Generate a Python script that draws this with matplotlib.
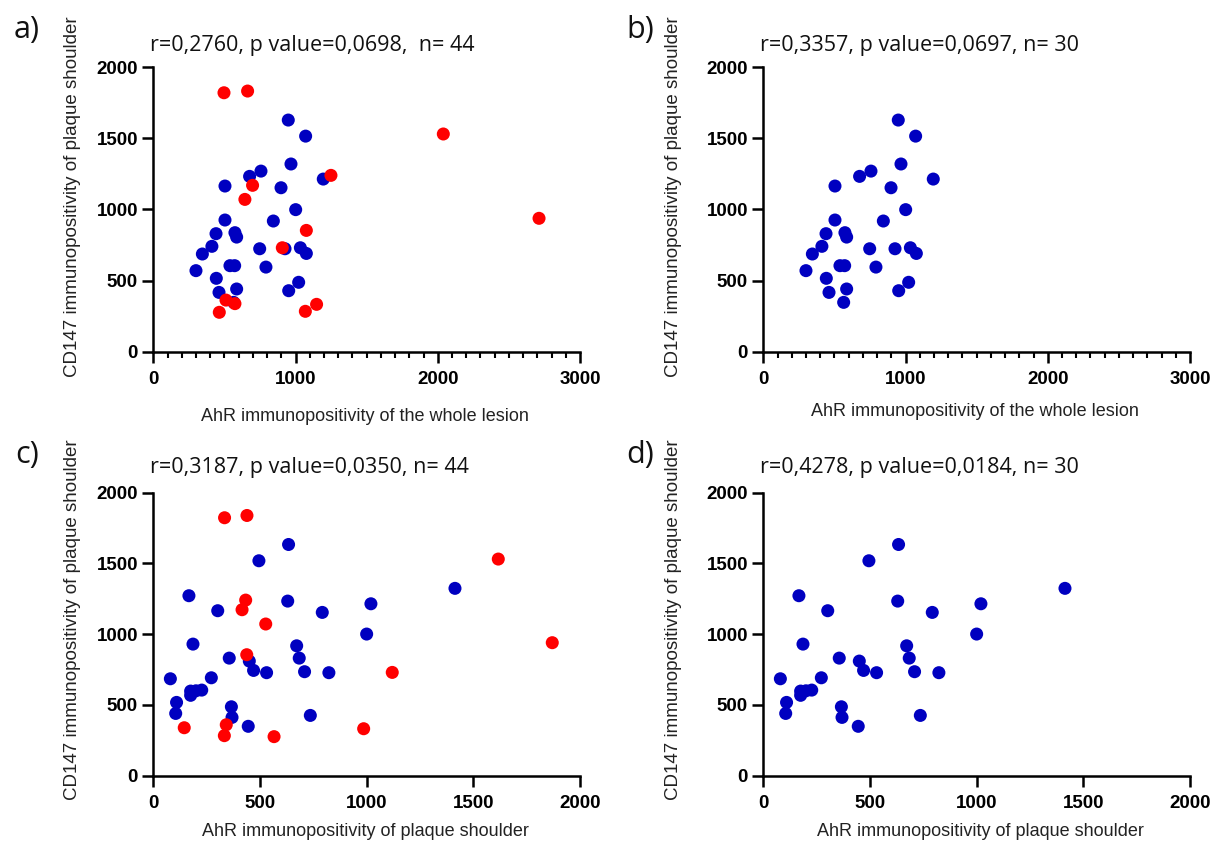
import matplotlib
matplotlib.use("Agg")
import matplotlib.pyplot as plt
from matplotlib.ticker import MultipleLocator

# AhR whole lesion (a, b) - blue points are the n=30 group, red the extra 14
lesion_blue_x = [949, 1071, 968, 757, 677, 504, 898, 1195, 1001, 504, 844, 441, 574, 586, 412,
                 345, 748, 926, 1034, 1076, 300, 539, 572, 792, 443, 1022, 462, 586, 952, 565]
lesion_blue_y = [1629, 1516, 1320, 1270, 1233, 1165, 1153, 1214, 999, 926, 919, 830, 837, 806, 741,
                 687, 724, 724, 731, 691, 570, 605, 605, 595, 516, 488, 417, 441, 429, 347]
lesion_red_x = [497, 663, 2039, 1249, 698, 644, 2712, 1076, 907, 511, 574, 464, 1069, 1148]
lesion_red_y = [1821, 1833, 1531, 1240, 1170, 1071, 938, 853, 731, 363, 338, 277, 284, 333]

# AhR plaque shoulder (c, d)
shoulder_blue_x = [634, 495, 1414, 167, 630, 1020, 302, 792, 1000, 186, 672, 356, 684, 450, 470,
                   531, 709, 823, 80, 272, 175, 227, 175, 109, 105, 366, 369, 736, 445, 200]
shoulder_blue_y = [1634, 1519, 1324, 1272, 1234, 1215, 1166, 1154, 1001, 930, 918, 831, 831, 810, 744,
                   728, 735, 728, 685, 692, 598, 605, 568, 518, 440, 487, 412, 426, 349, 600]
shoulder_red_x = [334, 439, 1617, 433, 416, 527, 1870, 438, 1120, 145, 342, 333, 566, 986]
shoulder_red_y = [1823, 1839, 1531, 1241, 1173, 1072, 940, 855, 730, 339, 360, 283, 276, 332]

titles = ["r=0,2760, p value=0,0698,  n= 44", "r=0,3357, p value=0,0697, n= 30",
          "r=0,3187, p value=0,0350, n= 44", "r=0,4278, p value=0,0184, n= 30"]
letters = ["a)", "b)", "c)", "d)"]
xlabels = ["AhR immunopositivity of the whole lesion", "AhR immunopositivity of the whole lesion",
           "AhR immunopositivity of plaque shoulder", "AhR immunopositivity of plaque shoulder"]
ylabel = "CD147 immunopositivity of plaque shoulder"

BLUE = "#0000C0"
RED = "#FF0000"

tick_font = "Liberation Sans"
label_font = "Liberation Sans"
title_font = "Open Sans"

W, H = 1228, 850
fig = plt.figure(figsize=(W / 100, H / 100), dpi=100)


def px(x, y):
    return x / W, 1 - y / H


# axes boxes in pixels: left, top, right, bottom
boxes = [(153.3, 67.3, 580, 351.7), (763.3, 67.3, 1190, 351.7),
         (153.3, 492.7, 580, 775.7), (763.3, 492.7, 1190, 775.7)]

panels = [
    (lesion_blue_x, lesion_blue_y, lesion_red_x, lesion_red_y, 3000),
    (lesion_blue_x, lesion_blue_y, None, None, 3000),
    (shoulder_blue_x, shoulder_blue_y, shoulder_red_x, shoulder_red_y, 2000),
    (shoulder_blue_x, shoulder_blue_y, None, None, 2000),
]

# text positions (pixels)
title_pos = [(150, 45), (760, 45), (150, 467), (760, 467)]
letter_pos = [(27, 30), (640, 30), (27, 455), (640, 455)]
xlabel_pos = [(365, 416), (975, 411), (365, 832), (980, 832)]
ylabel_pos = [(73, 197), (673, 197), (73, 620), (673, 620)]

for i, (bx, by, rx, ry, xmax) in enumerate(panels):
    l, t, r, b = boxes[i]
    ax = fig.add_axes([l / W, 1 - b / H, (r - l) / W, (b - t) / H])
    ax.scatter(bx, by, s=88, color=BLUE, edgecolors="none", clip_on=False, zorder=3)
    if rx is not None:
        ax.scatter(rx, ry, s=88, color=RED, edgecolors="none", clip_on=False, zorder=4)
    ax.set_xlim(0, xmax)
    ax.set_ylim(0, 2000)
    ax.yaxis.set_major_locator(MultipleLocator(500))
    if xmax == 3000:
        ax.xaxis.set_major_locator(MultipleLocator(1000))
        ax.xaxis.set_minor_locator(MultipleLocator(100))
    else:
        ax.xaxis.set_major_locator(MultipleLocator(500))
    for side in ["top", "right"]:
        ax.spines[side].set_visible(False)
    for side in ["left", "bottom"]:
        ax.spines[side].set_linewidth(1.8)
        ax.spines[side].set_capstyle("projecting")
    ax.tick_params(axis="both", which="major", direction="out", length=8, width=1.8, color="black")
    ax.tick_params(axis="x", which="minor", direction="out", length=4.5, width=1.5)
    ax.tick_params(axis="x", which="major", pad=6)
    ax.tick_params(axis="y", which="major", pad=3)
    for lab in ax.get_xticklabels() + ax.get_yticklabels():
        lab.set_fontfamily(tick_font)
        lab.set_fontweight("bold")
        lab.set_fontsize(13.5)

    fig.text(*px(*title_pos[i]), titles[i], fontsize=15.5, family=title_font,
             ha="left", va="center", color="#111111")
    fig.text(*px(*letter_pos[i]), letters[i], fontsize=22, family=title_font,
             ha="center", va="center", color="#111111")
    fig.text(*px(*xlabel_pos[i]), xlabels[i], fontsize=13, family=label_font,
             ha="center", va="center", color="#222222")
    fig.text(*px(*ylabel_pos[i]), ylabel, fontsize=13.5, family=label_font, rotation=90,
             ha="center", va="center", color="#222222")

fig.savefig("out.png", dpi=100)
